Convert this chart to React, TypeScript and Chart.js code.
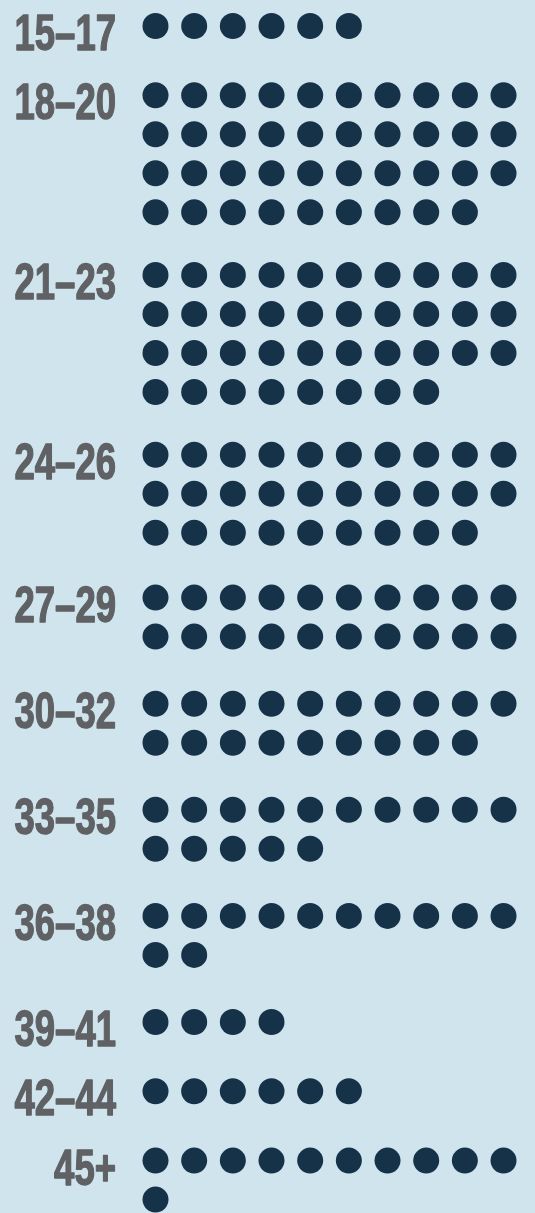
import React, { useEffect, useRef } from "react";
import { Chart, registerables } from "chart.js";

Chart.register(...registerables);

// ---- data ----
const AGE_GROUPS = ["15–17", "18–20", "21–23", "24–26", "27–29", "30–32", "33–35", "36–38", "39–41", "42–44", "45+"];
const COUNTS = [6, 39, 38, 29, 20, 19, 15, 12, 4, 6, 11];
const DOTS_PER_ROW = 10;

// ---- layout constants ----
const W = 535;
const H = 1213;
const BG = "#cfe4ed";
const DOT = "#163249";
const LABEL = "#5f6164";
const AXIS_W = 125;
const COL0_PX = 155.5;
const COL_STEP = 38.67;
const FIRST_Y = 26;
const ROW_STEP = 39;
const GROUP_ADV = 69.3;
const EXTRA_ROW_ADV = 36.8;
const LABEL_RIGHT = 116;
const LABEL_BASELINE_OFFSET = 24;
const LABEL_SIZE = 50;
const LABEL_SCALE_X = 0.73;

function groupStarts(): number[] {
  const out: number[] = [];
  let y = FIRST_Y;
  COUNTS.forEach((c) => {
    out.push(y);
    const rows = Math.ceil(c / DOTS_PER_ROW);
    y += GROUP_ADV + (rows - 1) * EXTRA_ROW_ADV;
  });
  return out;
}

export default function App() {
  const ref = useRef<HTMLCanvasElement | null>(null);

  useEffect(() => {
    document.body.style.margin = "0";
    document.body.style.background = BG;
    const starts = groupStarts();
    const points: { x: number; y: number }[] = [];
    COUNTS.forEach((c, gi) => {
      for (let k = 0; k < c; k++) {
        points.push({ x: k % DOTS_PER_ROW, y: starts[gi] + Math.floor(k / DOTS_PER_ROW) * ROW_STEP });
      }
    });
    const xMin = -(COL0_PX - AXIS_W) / COL_STEP;
    const xMax = xMin + (W - AXIS_W) / COL_STEP;

    const labelPlugin = {
      id: "groupLabels",
      afterDatasetsDraw(chart: any) {
        const ctx = chart.ctx as CanvasRenderingContext2D;
        const ys = chart.scales.y;
        ctx.save();
        ctx.fillStyle = LABEL;
        ctx.strokeStyle = LABEL;
        ctx.lineWidth = 1.4;
        ctx.lineJoin = "round";
        ctx.font = `bold ${LABEL_SIZE}px 'Liberation Sans', Arial, sans-serif`;
        ctx.textAlign = "right";
        ctx.textBaseline = "alphabetic";
        AGE_GROUPS.forEach((label, i) => {
          const y = ys.getPixelForValue(starts[i]) + LABEL_BASELINE_OFFSET;
          ctx.save();
          ctx.translate(LABEL_RIGHT, y);
          ctx.scale(LABEL_SCALE_X, 1);
          ctx.fillText(label, 0, 0);
          ctx.strokeText(label, 0, 0);
          ctx.restore();
        });
        ctx.restore();
      },
    };

    const chart = new Chart(ref.current!, {
      type: "scatter",
      data: {
        datasets: [
          {
            data: points,
            pointRadius: 13,
            pointHoverRadius: 13,
            pointBackgroundColor: DOT,
            pointBorderWidth: 0,
            clip: false,
          } as any,
        ],
      },
      options: {
        animation: false,
        responsive: false,
        maintainAspectRatio: false,
        events: [],
        layout: { autoPadding: false, padding: { left: AXIS_W, right: 0, top: 0, bottom: 0 } },
        plugins: { legend: { display: false }, tooltip: { enabled: false } },
        scales: {
          x: { type: "linear", display: false, min: xMin, max: xMax },
          y: { type: "linear", display: false, reverse: true, min: 0, max: H },
        },
      },
      plugins: [labelPlugin],
    });
    return () => chart.destroy();
  }, []);

  return (
    <div style={{ position: "fixed", left: 0, top: 0, width: W, height: H, background: BG }}>
      <canvas ref={ref} width={W} height={H} style={{ width: W, height: H, display: "block" }} />
    </div>
  );
}
